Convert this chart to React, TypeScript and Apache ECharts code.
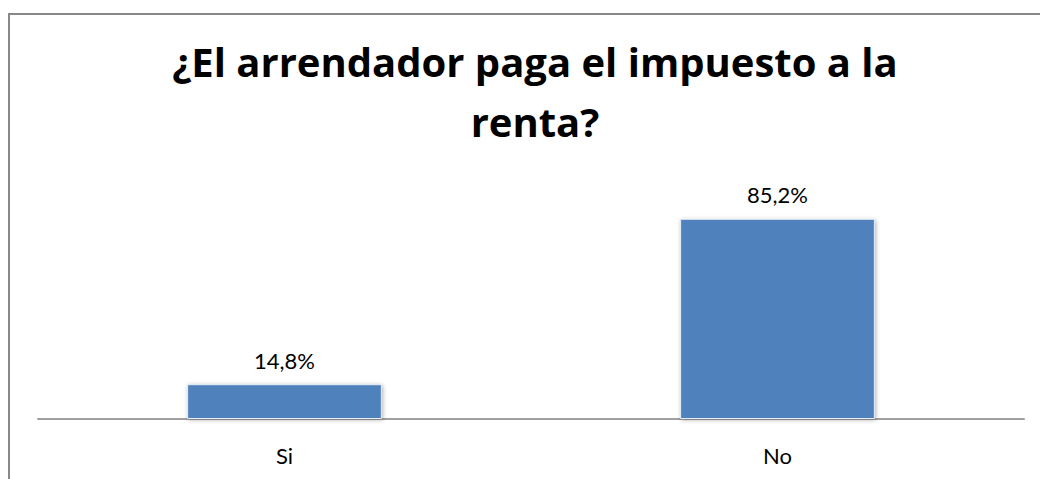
import React, { useEffect, useRef } from "react";
import * as echarts from "echarts";

const titleText = "¿El arrendador paga el impuesto a la\nrenta?";
const categories = ["Si", "No"];
const values = [14.8, 85.2];
const valueLabels = ["14,8%", "85,2%"];

export default function App() {
  const ref = useRef<HTMLDivElement>(null);
  useEffect(() => {
    const chart = echarts.init(ref.current!, null, { renderer: "svg" });
    chart.setOption({
      animation: false,
      backgroundColor: "#ffffff",
      title: {
        text: titleText,
        left: 530,
        textAlign: "center",
        top: 26,
        textStyle: {
          fontFamily: "Open Sans",
          fontWeight: "bold",
          fontSize: 40,
          lineHeight: 60,
          color: "#000000",
        },
      },
      graphic: [
        {
          type: "rect",
          shape: { x: 9, y: 14, width: 1100, height: 600 },
          style: { fill: "none", stroke: "#888888", lineWidth: 2 },
          silent: true,
        },
      ],
      grid: { left: 38, right: 16, top: 184, bottom: 60 },
      xAxis: {
        type: "category",
        data: categories,
        axisLine: { show: true, lineStyle: { color: "#a0a0a0", width: 2 } },
        axisTick: { show: false },
        axisLabel: {
          margin: 25,
          fontFamily: "Lato",
          fontSize: 22,
          color: "#000000",
        },
      },
      yAxis: {
        type: "value",
        min: 0,
        max: 100,
        show: false,
        splitLine: { show: false },
      },
      series: [
        {
          type: "bar",
          data: values,
          barWidth: "39.5%",
          itemStyle: {
            color: "#4f81bd",
            borderColor: "#e8eef6",
            borderWidth: 1,
            shadowColor: "rgba(0,0,0,0.3)",
            shadowBlur: 4,
            shadowOffsetX: 1,
            shadowOffsetY: 1,
          },
          label: {
            show: true,
            position: "top",
            distance: 13,
            fontFamily: "Lato",
            fontSize: 22,
            color: "#000000",
            formatter: (p: any) => valueLabels[p.dataIndex],
          },
        },
      ],
    });
    return () => chart.dispose();
  }, []);
  return (
    <div
      ref={ref}
      style={{ position: "fixed", left: 0, top: 0, width: 1040, height: 479 }}
    />
  );
}
